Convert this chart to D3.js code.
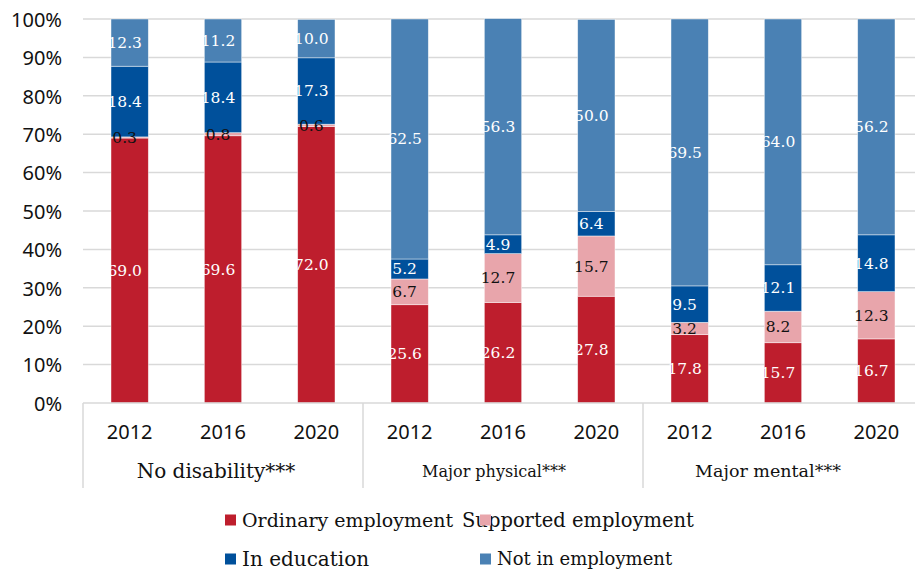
<!DOCTYPE html>
<html>
<head>
<meta charset="utf-8">
<script src="https://cdn.jsdelivr.net/npm/d3@7"></script>
<style>
  html, body { margin: 0; padding: 0; background: #fff; }
  svg { display: block; }
</style>
</head>
<body>
<svg id="chart" width="915" height="571"></svg>
<script>
// Employment status by disability group and survey year (percent)
const groups = ["No disability***", "Major physical***", "Major mental***"];
const years = ["2012", "2016", "2020"];
const seriesNames = ["Ordinary employment", "Supported employment", "In education", "Not in employment"];

// values in group order, then year order
const ordinary   = [69.0, 69.6, 72.0, 25.6, 26.2, 27.8, 17.8, 15.7, 16.7];
const supported  = [0.3, 0.8, 0.6, 6.7, 12.7, 15.7, 3.2, 8.2, 12.3];
const education  = [18.4, 18.4, 17.3, 5.2, 4.9, 6.4, 9.5, 12.1, 14.8];
const notEmployed = [12.3, 11.2, 10.0, 62.5, 56.3, 50.0, 69.5, 64.0, 56.2];

const yTicks = [0, 10, 20, 30, 40, 50, 60, 70, 80, 90, 100];

const colors = ["#BE1E2D", "#E8A5AB", "#00509B", "#4A81B4"];
const labelColors = ["#fff", "#111", "#fff", "#fff"];
const groupFontSizes = [20, 16, 17.5];
const groupLabelShift = [7, 9, 15];
const legendFontSizes = [19, 19.5, 20, 18];

const seriesValues = [ordinary, supported, education, notEmployed];

const svg = d3.select("#chart");
const plotLeft = 83, plotRight = 923, plotTop = 19, plotBottom = 403;

const keys = [];
groups.forEach((g, gi) => years.forEach((yr, yi) => keys.push(gi * years.length + yi)));

const rows = keys.map(i => {
  const r = { key: i };
  seriesNames.forEach((s, si) => r[s] = seriesValues[si][i]);
  return r;
});

const x = d3.scaleBand().domain(keys).range([plotLeft, plotRight]).paddingInner(0.6).paddingOuter(0.3);
const y = d3.scaleLinear().domain([0, 100]).range([plotBottom, plotTop]);

// horizontal gridlines
svg.append("g")
  .selectAll("line")
  .data(yTicks.filter(t => t > 0))
  .join("line")
  .attr("x1", plotLeft).attr("x2", plotRight)
  .attr("y1", d => y(d)).attr("y2", d => y(d))
  .attr("stroke", "#d9d9d9").attr("stroke-width", 1.5);

// y axis labels
const yAxis = d3.axisLeft(y).tickValues(yTicks).tickFormat(d => d + "%").tickSize(0).tickPadding(0);
const yg = svg.append("g").attr("transform", `translate(62,0)`).call(yAxis);
yg.select(".domain").remove();
yg.selectAll("text")
  .attr("font-family", "'Noto Sans', sans-serif")
  .attr("font-size", 20)
  .attr("fill", "#111")
  .attr("dy", "0.36em");

// stacked bars
const stack = d3.stack().keys(seriesNames);
const stacked = stack(rows);

const layers = svg.append("g").selectAll("g")
  .data(stacked)
  .join("g")
  .attr("fill", (d, i) => colors[i]);

layers.selectAll("rect")
  .data(d => d)
  .join("rect")
  .attr("x", d => x(d.data.key))
  .attr("width", x.bandwidth())
  .attr("y", d => y(d[1]))
  .attr("height", d => y(d[0]) - y(d[1]))
  .attr("stroke", "#fff")
  .attr("stroke-opacity", 0.6)
  .attr("stroke-width", 0.75);

// value labels
const labels = svg.append("g");
stacked.forEach((layer, si) => {
  labels.selectAll(null)
    .data(layer)
    .join("text")
    .attr("x", d => x(d.data.key) + x.bandwidth() / 2 - 5)
    .attr("y", d => y((d[0] + d[1]) / 2))
    .attr("dy", "0.35em")
    .attr("text-anchor", "middle")
    .attr("font-family", "'DejaVu Serif', serif")
    .attr("font-size", 15.5)
    .attr("fill", labelColors[si])
    .text(d => d.data[seriesNames[si]].toFixed(1));
});

// bottom axis line and group dividers
svg.append("line")
  .attr("x1", plotLeft).attr("x2", plotRight)
  .attr("y1", plotBottom).attr("y2", plotBottom)
  .attr("stroke", "#d9d9d9").attr("stroke-width", 1.5);

const groupEdges = groups.map((g, gi) => x(gi * years.length) - x.step() * x.paddingOuter());
svg.append("g").selectAll("line")
  .data(groupEdges)
  .join("line")
  .attr("x1", d => d).attr("x2", d => d)
  .attr("y1", plotBottom).attr("y2", 488)
  .attr("stroke", "#d9d9d9").attr("stroke-width", 1.5);

// year labels
svg.append("g").selectAll("text")
  .data(keys)
  .join("text")
  .attr("x", d => x(d) + x.bandwidth() / 2)
  .attr("y", 432)
  .attr("dy", "0.36em")
  .attr("text-anchor", "middle")
  .attr("font-family", "'Noto Sans', sans-serif")
  .attr("font-size", 20)
  .attr("fill", "#111")
  .text(d => years[d % years.length]);

// group labels
svg.append("g").selectAll("text")
  .data(groups)
  .join("text")
  .attr("x", (d, gi) => (x(gi * 3) + x(gi * 3 + 2) + x.bandwidth()) / 2 - groupLabelShift[gi])
  .attr("y", 471)
  .attr("dy", "0.35em")
  .attr("text-anchor", "middle")
  .attr("font-family", "'DejaVu Serif', serif")
  .attr("font-size", (d, gi) => groupFontSizes[gi])
  .attr("fill", "#111")
  .text(d => d);

// legend: swatch drawn after its text, second entry's text starts left of its swatch
const legendPos = [[225, 520], [480, 520], [225, 559], [480, 559]];
const legendTextX = [17, -18, 17, 17];
const legend = svg.append("g").selectAll("g")
  .data(seriesNames)
  .join("g")
  .attr("transform", (d, i) => `translate(${legendPos[i][0]},${legendPos[i][1]})`);

legend.append("text")
  .attr("x", (d, i) => legendTextX[i])
  .attr("dy", "0.35em")
  .attr("font-family", "'DejaVu Serif', serif")
  .attr("font-size", (d, i) => legendFontSizes[i])
  .attr("fill", "#111")
  .text(d => d);

legend.append("rect")
  .attr("x", 0).attr("y", -5.5)
  .attr("width", 11).attr("height", 11)
  .attr("fill", (d, i) => colors[i]);
</script>
</body>
</html>
